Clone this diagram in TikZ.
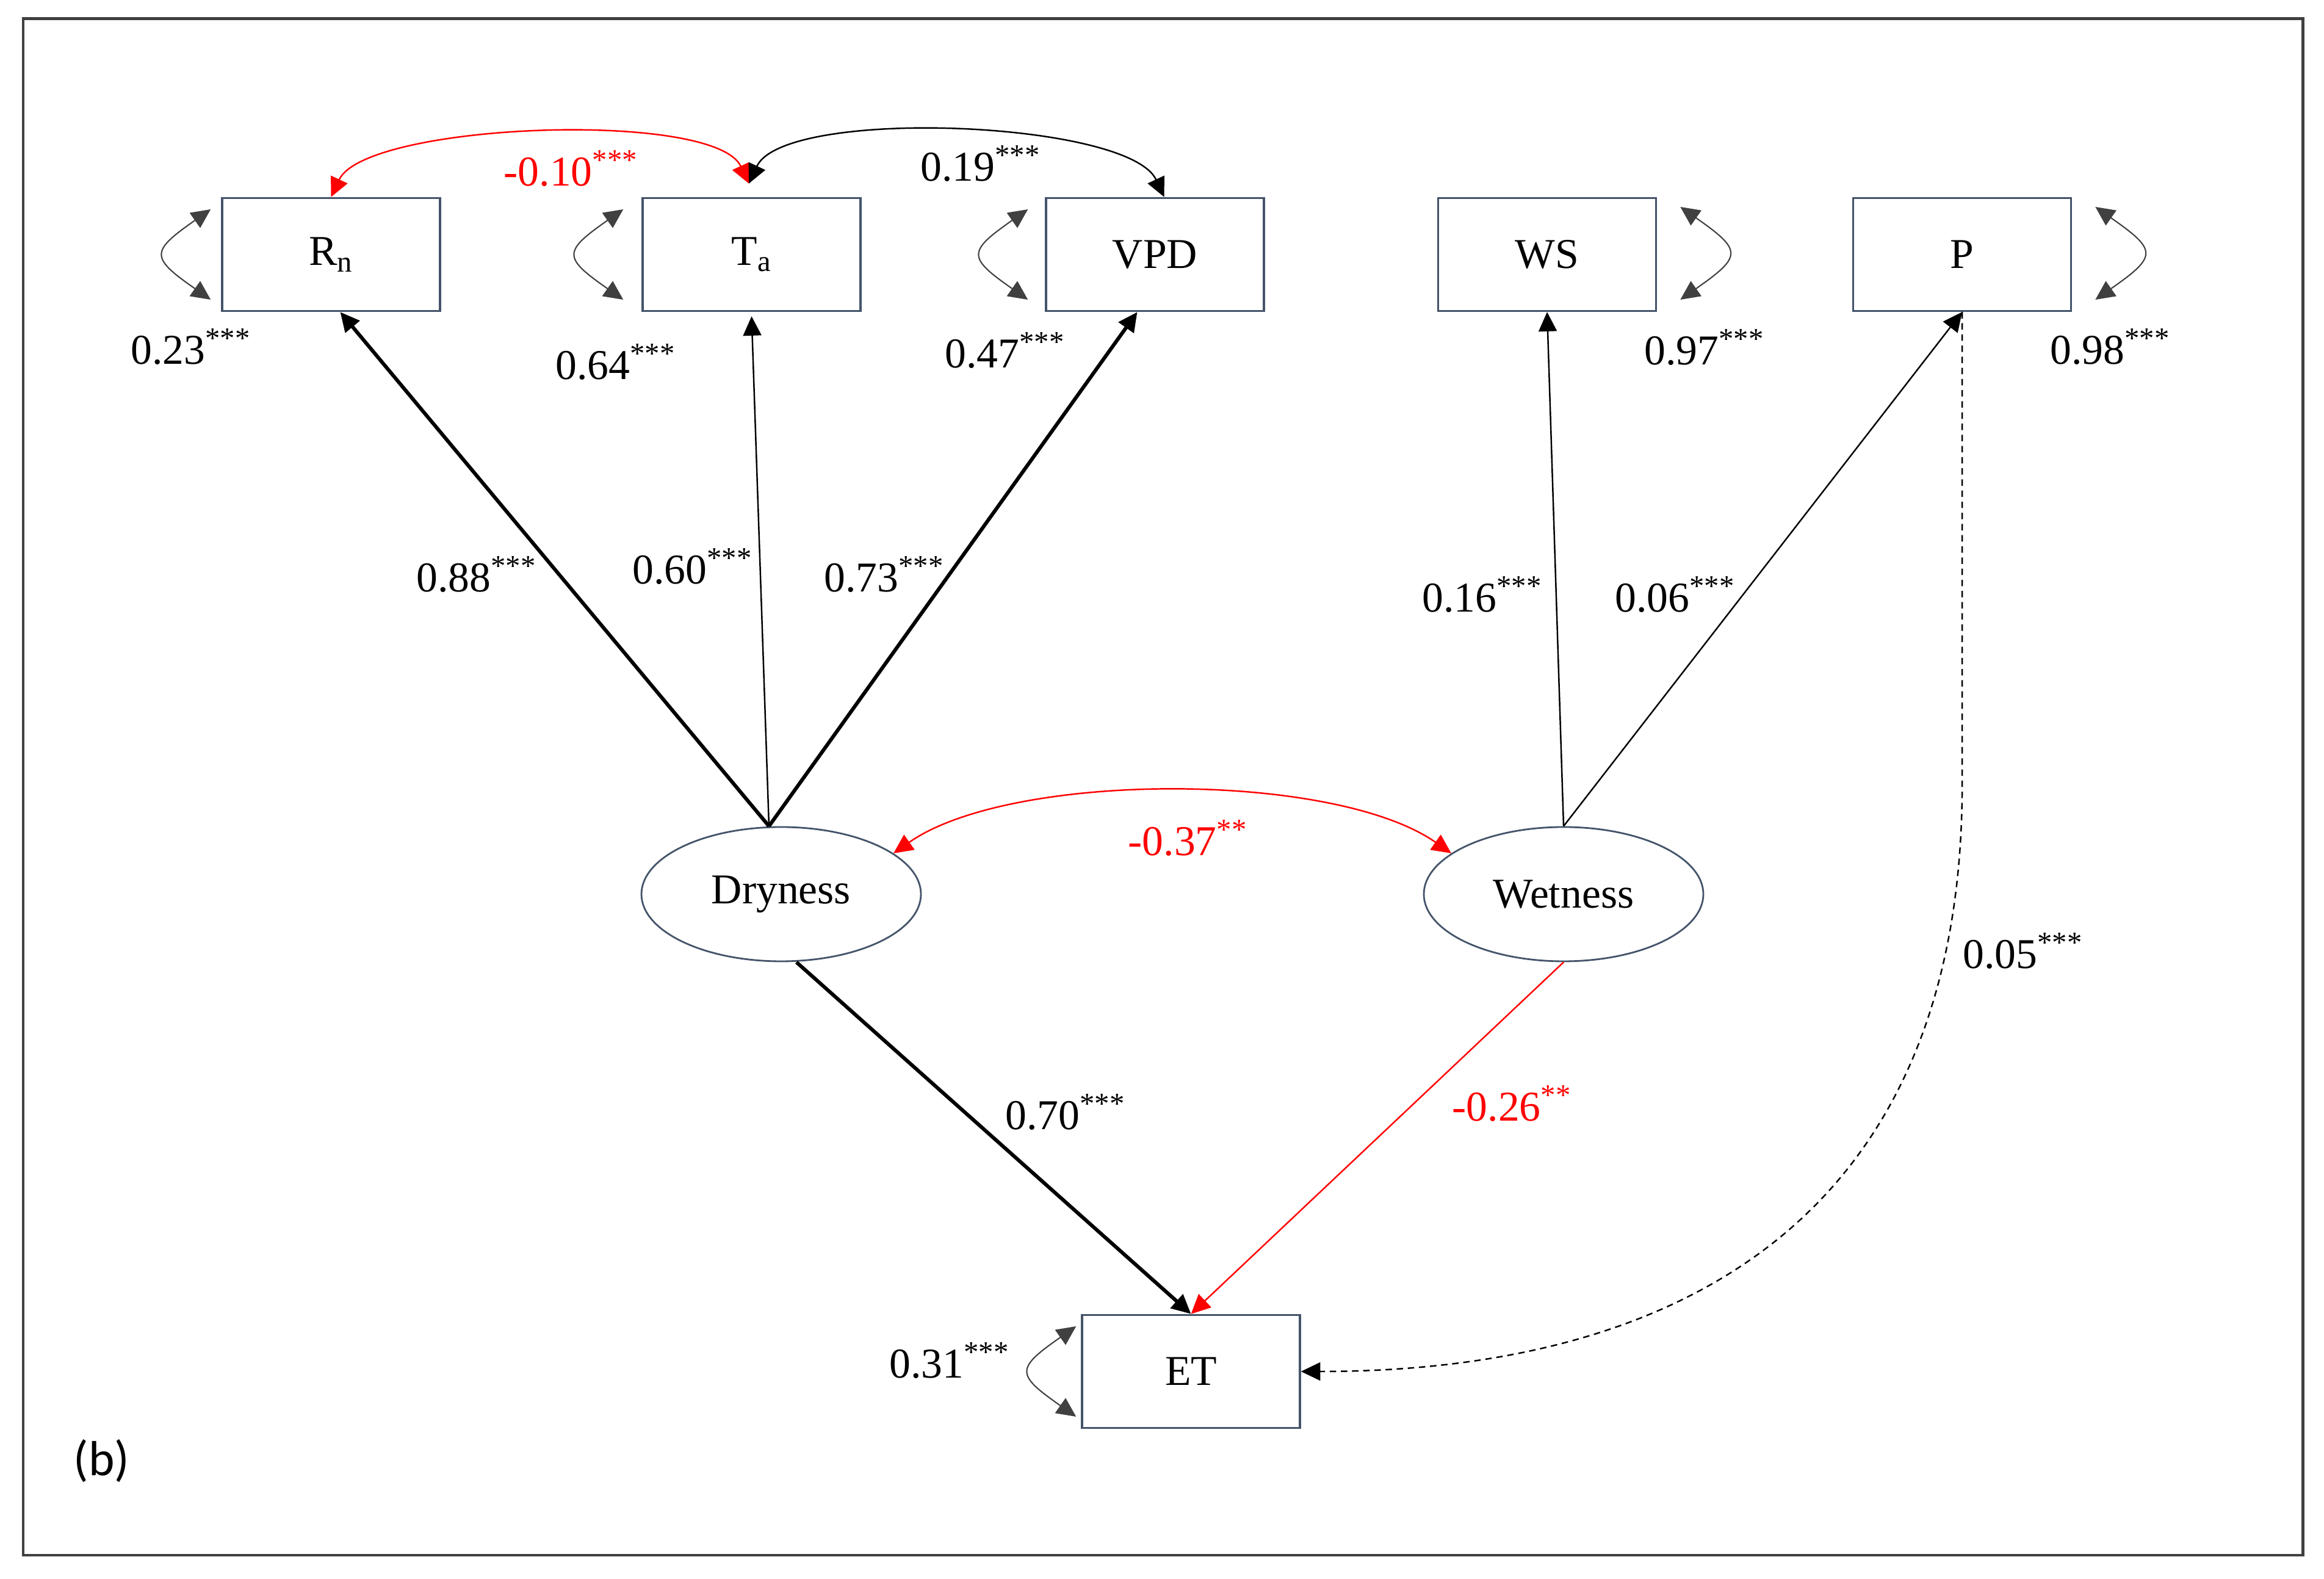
\documentclass[tikz,border=0pt]{standalone}
\usepackage{fontspec}
\setmainfont{Liberation Serif}
\newfontfamily\panelfont{Carlito}
\usetikzlibrary{arrows.meta}
\usetikzlibrary{positioning}
\usetikzlibrary{shapes.geometric}
\definecolor{boxblue}{RGB}{68,84,106}
\definecolor{framegray}{RGB}{64,64,64}
\tikzset{var/.style = {draw=boxblue, line width=1pt, minimum width=3.57cm, minimum height=1.85cm, inner sep=0},
         lat/.style = {draw=boxblue, line width=0.8pt, ellipse, minimum width=4.58cm, minimum height=2.2cm, inner sep=0},
         coef/.style = {anchor=base west, inner sep=0},
         heavy/.style = {line width=1.7pt},
         light/.style = {line width=0.7pt},
         resid/.style = {line width=0.6pt, draw=framegray},
         dotpath/.style = {line width=0.7pt, dash pattern=on 3pt off 2.2pt},
         lloop/.style = {out=215, in=145, looseness=2.1},
         rloop/.style = {out=-35, in=35, looseness=2.1},
         >={Triangle[length=9pt,width=8.5pt]}}

\begin{document}
\begin{tikzpicture}[font=\fontsize{19.8pt}{23pt}\selectfont]
            \useasboundingbox (0,0) rectangle (38.08,25.87);
            \draw [line width=1.4pt, framegray] (0.38,0.39) rectangle (37.73,25.56);

            \node [var] (Rn) at (5.425,21.70) {R\textsubscript{n}};
            \node [var] (Ta) at (12.315,21.70) {T\textsubscript{a}};
            \node [var] (VPD) at (18.925,21.70) {VPD};
            \node [var] (WS) at (25.35,21.70) {WS};
            \node [var] (P) at (32.15,21.70) {P};
            \node [var] (ET) at (19.515,3.40) {ET};
            \node [lat] (Dry) at (12.80,11.22) {Dryness};
            \node [lat] (Wet) at (25.62,11.22) {Wetness};

            % loadings
            \draw [->, heavy] ([xshift=-2mm]Dry.north) -- ([xshift=1.5mm]Rn.south);
            \draw [->, light] ([xshift=-2mm]Dry.north) -- ([yshift=-0.7mm]Ta.south);
            \draw [->, heavy] ([xshift=-2mm]Dry.north) -- ([xshift=-2.9mm]VPD.south);
            \draw [->, light] (Wet.north) -- (WS.south);
            \draw [->, light] (Wet.north) -- (P.south);

            % paths to ET
            \draw [->, heavy] ([xshift=2.5mm]Dry.south) -- (ET.north);
            \draw [->, light, red] (Wet.south) -- (ET.north);
            \draw [->, dotpath] (P.south) -- ++(0,-7.9) .. controls +(-0.07,-7.0) and +(6.14,0) .. (ET.east);

            % covariances
            \coordinate (TaTop) at ([xshift=-0.45mm,yshift=2.2mm]Ta.north);
            \draw [<->, light, red] (Rn.north) to [out=65, in=115, looseness=0.5] (TaTop);
            \draw [<->, light] (TaTop) to [out=65, in=115, looseness=0.52] ([xshift=1.5mm]VPD.north);
            \draw [<->, light, red] (Dry.20) to [out=35, in=145, looseness=0.66] (Wet.160);

            % residual variances
            \draw [<->, resid] ([xshift=-1.7mm,yshift=7.4mm]Rn.west) to [lloop] ([xshift=-1.7mm,yshift=-7.4mm]Rn.west);
            \draw [<->, resid] ([xshift=-3mm,yshift=7.4mm]Ta.west) to [lloop] ([xshift=-3mm,yshift=-7.4mm]Ta.west);
            \draw [<->, resid] ([xshift=-2.8mm,yshift=7.4mm]VPD.west) to [lloop] ([xshift=-2.8mm,yshift=-7.4mm]VPD.west);
            \draw [<->, resid] ([xshift=-0.8mm,yshift=7.4mm]ET.west) to [lloop] ([xshift=-0.8mm,yshift=-7.4mm]ET.west);
            \draw [<->, resid] ([xshift=3.8mm,yshift=7.8mm]WS.east) to [rloop] ([xshift=3.8mm,yshift=-7.4mm]WS.east);
            \draw [<->, resid] ([xshift=3.8mm,yshift=7.8mm]P.east) to [rloop] ([xshift=3.8mm,yshift=-7.4mm]P.east);

            \node [coef] (resRn) at (2.14,19.90) {0.23\textsuperscript{***}};
            \node [coef, red] (covRnTa) at (8.25,22.82) {-0.10\textsuperscript{***}};
            \node [coef] (covTaVPD) at (15.08,22.90) {0.19\textsuperscript{***}};
            \node [coef] (resTa) at (9.10,19.65) {0.64\textsuperscript{***}};
            \node [coef] (resVPD) at (15.48,19.84) {0.47\textsuperscript{***}};
            \node [coef] (resWS) at (26.94,19.89) {0.97\textsuperscript{***}};
            \node [coef] (resP) at (33.59,19.90) {0.98\textsuperscript{***}};
            \node [coef] (loadRn) at (6.82,16.17) {0.88\textsuperscript{***}};
            \node [coef] (loadTa) at (10.36,16.30) {0.60\textsuperscript{***}};
            \node [coef] (loadVPD) at (13.50,16.17) {0.73\textsuperscript{***}};
            \node [coef] (loadWS) at (23.30,15.84) {0.16\textsuperscript{***}};
            \node [coef] (loadP) at (26.46,15.84) {0.06\textsuperscript{***}};
            \node [coef, red] (covDW) at (18.48,11.85) {-0.37\textsuperscript{**}};
            \node [coef] (pathPET) at (32.16,10.00) {0.05\textsuperscript{***}};
            \node [coef] (pathDET) at (16.47,7.36) {0.70\textsuperscript{***}};
            \node [coef, red] (pathWET) at (23.79,7.50) {-0.26\textsuperscript{**}};
            \node [coef] (resET) at (14.57,3.29) {0.31\textsuperscript{***}};
            \node [coef, font=\panelfont\fontsize{23pt}{27pt}\selectfont] (panel) at (1.20,1.69) {(b)};

        \end{tikzpicture}
\end{document}
